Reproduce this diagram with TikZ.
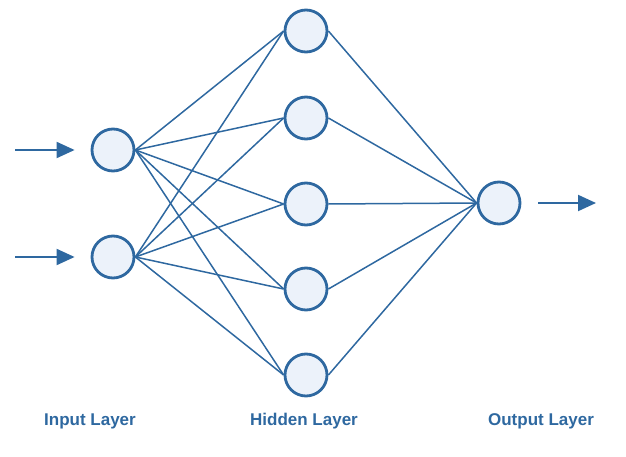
\documentclass[tikz,border=0pt]{standalone}
\usepackage{fontspec}
\setmainfont{Liberation Sans}
\usetikzlibrary{arrows.meta}
\definecolor{nb}{RGB}{46,104,160}
\definecolor{nf}{RGB}{236,242,250}
\begin{document}
\begin{tikzpicture}[x=1pt,y=-1pt,
 neuron/.style={circle,draw=nb,line width=2.8pt,fill=nf,minimum size=42pt,inner sep=0pt},
 link/.style={draw=nb,line width=1.5pt},
 io/.style={draw=nb,line width=2pt,-{Triangle[length=18pt,width=16pt]}},
 lab/.style={text=nb,font=\bfseries\fontsize{17}{20}\selectfont}]
\useasboundingbox (0,0) rectangle (626,457);
\node[neuron] (i1) at (113,150) {};
\node[neuron] (i2) at (113,257) {};
\node[neuron] (h1) at (306,31) {};
\node[neuron] (h2) at (306,118) {};
\node[neuron] (h3) at (306,204) {};
\node[neuron] (h4) at (306,289) {};
\node[neuron] (h5) at (306,375) {};
\node[neuron] (o) at (499,203) {};
\coordinate (a1) at (15,150);
\coordinate (a2) at (15,257);
\coordinate (b) at (596,203);
\foreach \i in {i1,i2}{\foreach \h in {h1,h2,h3,h4,h5}{\draw[link] (\i.east) -- (\h.west);}}
\foreach \h in {h1,h2,h3,h4,h5}{\draw[link] (\h.east) -- (o.west);}
\draw[io] (a1) -- ([xshift=-16pt]i1.west);
\draw[io] (a2) -- ([xshift=-16pt]i2.west);
\draw[io] ([xshift=17pt]o.east) -- (b);
\node[lab] (l1) at (90,421) {Input Layer};
\node[lab] (l2) at (304,421) {Hidden Layer};
\node[lab] (l3) at (541,421) {Output Layer};
\end{tikzpicture}
\end{document}
